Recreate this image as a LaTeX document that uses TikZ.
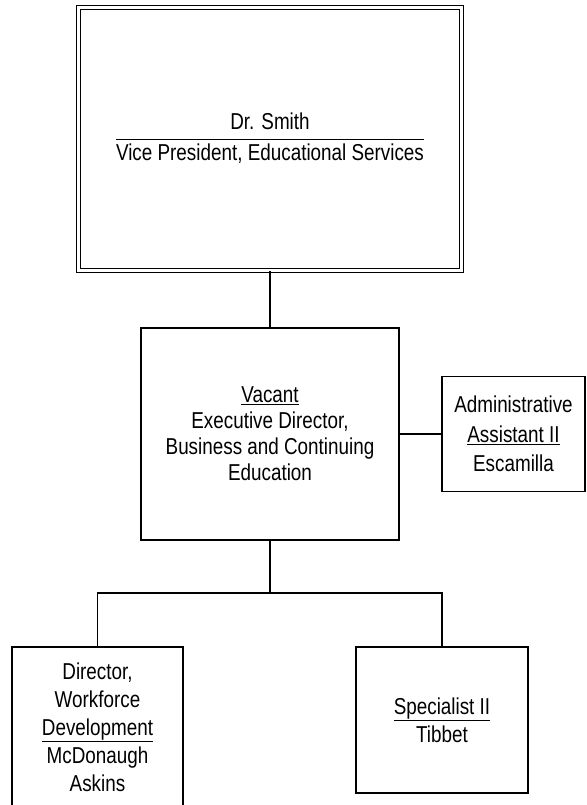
\documentclass[tikz,border=0pt]{standalone}
\usepackage{fontspec}
\setmainfont{Liberation Sans}[FakeStretch=0.82]

\newcommand{\orgfont}[1]{\fontsize{23}{#1}\selectfont}

\begin{document}
\begin{tikzpicture}[x=1pt, y=-1pt,
    box/.style={draw, line width=1.2pt, align=center, inner sep=2pt},
    link/.style={line width=1.2pt}]
    \useasboundingbox (0, 0) rectangle (586, 805);

    \node[box, double, double distance=2.6pt, line width=1.1pt,
      minimum width=383pt, minimum height=263pt] (vp) at (270, 139)
      {\orgfont{29}\renewcommand{\arraystretch}{1.05}%
       \begin{tabular}{@{}c@{}}Dr. Smith\\\hline Vice President, Educational Services\end{tabular}};

    \node[box, minimum width=258pt, minimum height=212pt, font=\orgfont{26}] (exec) at (270, 434)
      {\underline{Vacant}\\Executive Director,\\Business and Continuing\\Education};

    \node[box, minimum width=143pt, minimum height=115pt, font=\orgfont{29.5}] (admin) at (513.5, 434)
      {Administrative\\\underline{Assistant II}\\Escamilla};

    \node[box, minimum width=171pt, minimum height=160pt, font=\orgfont{28}] (wfd) at (97.5, 727)
      {Director,\\Workforce\\\underline{Development}\\McDonaugh\\Askins};

    \node[box, minimum width=172pt, minimum height=146pt, font=\orgfont{28}] (spec) at (442, 720)
      {\underline{Specialist II}\\Tibbet};

    \coordinate (split) at (270, 593);

    \draw[link] (vp.south) -- (exec.north);
    \draw[link] (exec.east) -- (admin.west);
    \draw[link] (exec.south) -- (split);
    \draw[link] (wfd.north) |- (split) -| (spec.north);
\end{tikzpicture}
\end{document}
